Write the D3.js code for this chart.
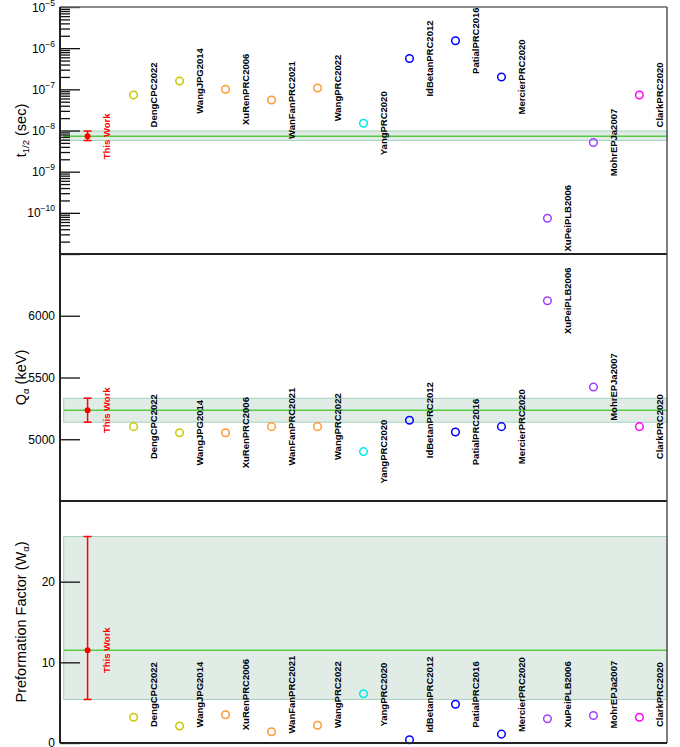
<!DOCTYPE html>
<html>
<head>
<meta charset="utf-8">
<script src="https://cdn.jsdelivr.net/npm/d3@7"></script>
<style>
    body { margin: 0; background: #fff; }
    svg { display: block; font-family: "Liberation Sans", Arial, sans-serif; }
</style>
</head>
<body>
<div id="chart"></div>
<script>
// reference labels, left to right
const refNames = ["DengCPC2022", "WangJPG2014", "XuRenPRC2006", "WanFanPRC2021", "WangPRC2022", "YangPRC2020",
    "IdBetanPRC2012", "PatialPRC2016", "MercierPRC2020", "XuPeiPLB2006", "MohrEPJa2007", "ClarkPRC2020"];
const refColors = ["#c8c800", "#c8c800", "#ff9933", "#ff9933", "#ff9933", "#00e8e8",
    "#0000ff", "#0000ff", "#0000ff", "#a040ff", "#a040ff", "#ff00ff"];

// half-life (sec)
const halfLife = [7.3e-8, 1.6e-7, 1.0e-7, 5.5e-8, 1.08e-7, 1.5e-8, 5.6e-7, 1.52e-6, 2.0e-7, 7.4e-11, 5.1e-9, 7.3e-8];
const halfLifeThisWork = { value: 7.2e-9, low: 5.7e-9, high: 9.7e-9 };

// Q alpha (keV)
const qAlpha = [5102, 5053, 5053, 5102, 5102, 4900, 5154, 5059, 5102, 6121, 5423, 5102];
const qAlphaThisWork = { value: 5235, low: 5138, high: 5332 };

// preformation factor
const preform = [3.2, 2.1, 3.5, 1.4, 2.2, 6.1, 0.4, 4.8, 1.1, 3.0, 3.4, 3.2];
const preformThisWork = { value: 11.5, low: 5.4, high: 25.6 };
const preformLabelLevel = 6;

const halfLifeDomain = [1e-11, 1e-5];
const qAlphaDomain = [4500, 6500];
const qAlphaTicks = [5000, 5500, 6000];
const preformDomain = [0, 30];
const preformTicks = [0, 10, 20];

const W = 680, H = 747;
const frameLeft = 60, frameRight = 667;
const thisWorkColor = "#ff0000";

let svg = d3.select("#chart").append("svg")
    .attr("width", W)
    .attr("height", H);

let scaleX = d3.scaleLinear()
    .domain([-0.6, 12.6])
    .range([frameLeft, frameRight]);

function drawPanel(panel) {
    let g = svg.append("g").attr("id", panel.id);
    let scaleY = panel.scale;
    let bandX0 = scaleX(-0.52);

    // uncertainty band of this work
    g.append("rect")
        .attr("x", bandX0)
        .attr("y", scaleY(panel.thisWork.high))
        .attr("width", frameRight - bandX0)
        .attr("height", scaleY(panel.thisWork.low) - scaleY(panel.thisWork.high))
        .attr("fill", "#e2ece7")
        .attr("stroke", "#a6d2bd")
        .attr("stroke-width", 1);

    g.append("line")
        .attr("x1", bandX0)
        .attr("x2", frameRight)
        .attr("y1", scaleY(panel.thisWork.value))
        .attr("y2", scaleY(panel.thisWork.value))
        .attr("stroke", "#55cc44")
        .attr("stroke-width", 1.5);

    // this work point with error bar
    let tx = scaleX(0);
    g.append("line")
        .attr("x1", tx).attr("x2", tx)
        .attr("y1", scaleY(panel.thisWork.low))
        .attr("y2", scaleY(panel.thisWork.high))
        .attr("stroke", thisWorkColor)
        .attr("stroke-width", 1.5);
    [panel.thisWork.low, panel.thisWork.high].forEach(v => {
        g.append("line")
            .attr("x1", tx - 4).attr("x2", tx + 4)
            .attr("y1", scaleY(v)).attr("y2", scaleY(v))
            .attr("stroke", thisWorkColor)
            .attr("stroke-width", 1.5);
    });
    g.append("circle")
        .attr("cx", tx)
        .attr("cy", scaleY(panel.thisWork.value))
        .attr("r", 3)
        .attr("fill", thisWorkColor);
    g.append("text")
        .attr("transform", `translate(${ tx + 19 }, ${ scaleY(panel.thisWork.value) }) rotate(-90)`)
        .attr("text-anchor", "middle")
        .attr("dominant-baseline", "central")
        .attr("font-size", 9.5)
        .attr("font-weight", "bold")
        .attr("fill", thisWorkColor)
        .text("This Work");

    // reference points
    g.selectAll("circle.ref")
        .data(panel.values)
        .enter()
        .append("circle")
            .attr("class", "ref")
            .attr("cx", (d, i) => scaleX(i + 1))
            .attr("cy", d => scaleY(d))
            .attr("r", 3.8)
            .attr("fill", "none")
            .attr("stroke", (d, i) => refColors[i])
            .attr("stroke-width", 1.5);

    g.selectAll("text.ref")
        .data(panel.values)
        .enter()
        .append("text")
            .attr("class", "ref")
            .attr("transform", (d, i) => {
                let ly = panel.labelLevel != null ? scaleY(panel.labelLevel) : scaleY(d);
                return `translate(${ scaleX(i + 1) + 20 }, ${ ly }) rotate(-90)`;
            })
            .attr("text-anchor", "middle")
            .attr("dominant-baseline", "central")
            .attr("font-size", 9.5)
            .attr("font-weight", "bold")
            .attr("fill", "#000")
            .text((d, i) => refNames[i]);

    // y axis
    let axisG = g.append("g")
        .attr("transform", `translate(${ frameLeft }, 0)`);
    if (panel.log) {
        let allTicks = scaleY.ticks();
        let major = allTicks.filter(t => Math.abs(Math.log10(t) - Math.round(Math.log10(t))) < 1e-6);
        let minor = allTicks.filter(t => !major.includes(t));
        axisG.append("g")
            .call(d3.axisLeft(scaleY).tickValues(minor).tickSize(-10).tickFormat(""))
            .call(a => a.select(".domain").remove());
        axisG.append("g")
            .call(d3.axisLeft(scaleY).tickValues(major).tickSize(-20).tickFormat(""))
            .call(a => a.select(".domain").remove());
        major.forEach(t => {
            if (t <= halfLifeDomain[0] * 1.01) return;
            let exp = Math.round(Math.log10(t));
            let label = axisG.append("text")
                .attr("x", -5)
                .attr("y", scaleY(t) + 4.5)
                .attr("text-anchor", "end")
                .attr("font-size", 12)
                .attr("fill", "#000");
            label.append("tspan").text("10");
            label.append("tspan")
                .attr("dy", -6)
                .attr("font-size", 8.5)
                .text(`\u2212${ -exp }`);
        });
    } else {
        axisG.append("g")
            .call(d3.axisLeft(scaleY).tickValues(panel.ticks).tickSize(-20).tickPadding(5)
                .tickFormat(d3.format("d")))
            .call(a => a.select(".domain").remove())
            .call(a => a.selectAll("text").attr("font-size", 12).attr("fill", "#000")
                .attr("font-family", "Liberation Sans, Arial, sans-serif"));
    }
    axisG.selectAll(".tick line").attr("stroke", "#111").attr("stroke-width", 1.3);

    // axis title
    let midY = (panel.top + panel.bottom) / 2 + (panel.titleShift || 0);
    let title = g.append("text")
        .attr("transform", `translate(21, ${ midY }) rotate(-90)`)
        .attr("text-anchor", "middle")
        .attr("dominant-baseline", "central")
        .attr("font-size", 14.5)
        .attr("fill", "#000");
    panel.title.forEach(part => {
        let t = title.append("tspan").text(part.text);
        if (part.sub) t.attr("font-size", 9.5).attr("dy", 4);
        if (part.back) t.attr("dy", -4);
    });

    // frame
    g.append("line")
        .attr("x1", frameLeft).attr("x2", frameRight)
        .attr("y1", panel.top).attr("y2", panel.top)
        .attr("stroke", panel.top < 10 ? "#666" : "#222")
        .attr("stroke-width", panel.top < 10 ? 1.5 : 2);
    g.append("line")
        .attr("x1", frameRight).attr("x2", frameRight)
        .attr("y1", panel.top).attr("y2", panel.bottom)
        .attr("stroke", "#555")
        .attr("stroke-width", 1.5);
    g.append("line")
        .attr("x1", frameLeft).attr("x2", frameRight)
        .attr("y1", panel.bottom).attr("y2", panel.bottom)
        .attr("stroke", "#222")
        .attr("stroke-width", 2);
    g.append("line")
        .attr("x1", frameLeft).attr("x2", frameLeft)
        .attr("y1", panel.top).attr("y2", panel.bottom)
        .attr("stroke", "#222")
        .attr("stroke-width", 2);
}

let panels = [
    {
        id: "half-life", top: 7, bottom: 254, log: true,
        scale: d3.scaleLog().domain(halfLifeDomain).range([254, 7]),
        values: halfLife, thisWork: halfLifeThisWork,
        title: [{ text: "t" }, { text: "1/2", sub: true }, { text: " (sec)", back: true }]
    },
    {
        id: "q-alpha", top: 254, bottom: 501,
        scale: d3.scaleLinear().domain(qAlphaDomain).range([501, 254]),
        values: qAlpha, thisWork: qAlphaThisWork, ticks: qAlphaTicks,
        title: [{ text: "Q" }, { text: "\u03b1", sub: true }, { text: " (keV)", back: true }]
    },
    {
        id: "preform", top: 501, bottom: 743,
        scale: d3.scaleLinear().domain(preformDomain).range([743, 501]),
        values: preform, thisWork: preformThisWork, ticks: preformTicks,
        labelLevel: preformLabelLevel,
        title: [{ text: "Preformation Factor (W" }, { text: "\u03b1", sub: true }, { text: ")", back: true }]
    }
];

panels.forEach(p => drawPanel(p));
</script>
</body>
</html>
